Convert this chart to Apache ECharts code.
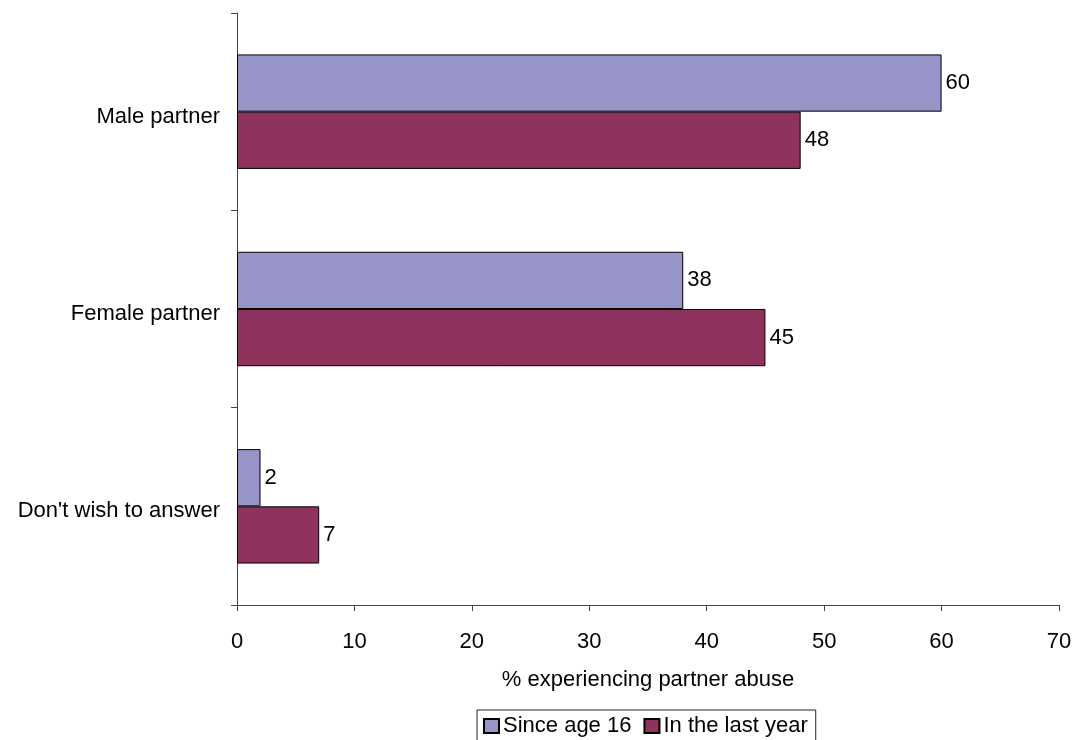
<!DOCTYPE html>
<html><head><meta charset="utf-8">
<script src="https://cdn.jsdelivr.net/npm/echarts@6/dist/echarts.min.js"></script>
<style>html,body{margin:0;padding:0;background:#fff}#c{width:1077px;height:740px}</style>
</head><body><div id="c"></div>
<script>
const categories = ["Male partner", "Female partner", "Don't wish to answer"];
const sinceAge16 = [60, 38, 2];
const lastYear = [48, 45, 7];
const seriesNames = ["Since age 16", "In the last year"];
const xTicks = { min: 0, max: 70, interval: 10 };

const font = "'Liberation Sans', Arial, sans-serif";
const fs = 22;
const chart = echarts.init(document.getElementById('c'));
const lbl = { show: true, position: 'right', distance: 4, color: '#000', fontSize: fs, fontFamily: font, padding: [4, 0, 0, 0] };
chart.setOption({
  animation: false,
  grid: { left: 237, right: 18, top: 13, bottom: 135, containLabel: false },
  legend: {
    data: seriesNames, bottom: -5, left: 477,
    itemWidth: 15, itemHeight: 14, itemGap: 12,
    borderColor: '#222', borderWidth: 1, padding: [5, 8, 8, 6],
    textStyle: { fontSize: fs, fontFamily: font, color: '#000', padding: [2, 0, 0, -1] },
    icon: 'rect'
  },
  xAxis: {
    type: 'value', min: xTicks.min, max: xTicks.max, interval: xTicks.interval,
    name: '% experiencing partner abuse', nameLocation: 'middle', nameGap: 64,
    nameTextStyle: { fontSize: fs, fontFamily: font, color: '#000' },
    axisLine: { show: true, lineStyle: { color: '#444', width: 1 } },
    axisTick: { show: true, length: 6, lineStyle: { color: '#444' } },
    axisLabel: { fontSize: fs, fontFamily: font, color: '#000', margin: 26 },
    splitLine: { show: false }
  },
  yAxis: {
    type: 'category', data: categories, inverse: true,
    axisLine: { show: true, lineStyle: { color: '#444', width: 1 } },
    axisTick: { show: true, length: 6, lineStyle: { color: '#444' } },
    axisLabel: { fontSize: fs, fontFamily: font, color: '#000', margin: 17, verticalAlign: 'top', lineHeight: 22, padding: [-6, 0, 0, 0] }
  },
  series: [
    { name: seriesNames[0], type: 'bar', data: sinceAge16, barGap: '0%', barCategoryGap: '42%',
      itemStyle: { color: '#9794C8', borderColor: '#000', borderWidth: 1 }, label: lbl },
    { name: seriesNames[1], type: 'bar', data: lastYear, barGap: '0%', barCategoryGap: '42%',
      itemStyle: { color: '#90325E', borderColor: '#000', borderWidth: 1 }, label: lbl }
  ]
});
</script></body></html>
